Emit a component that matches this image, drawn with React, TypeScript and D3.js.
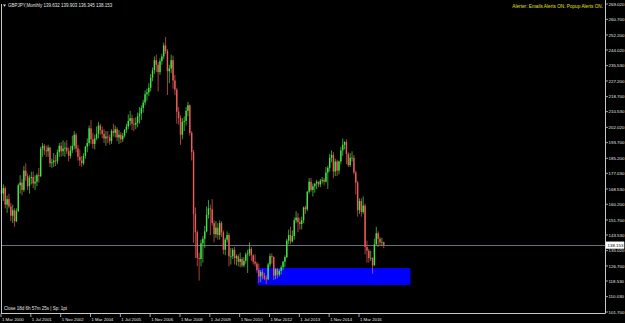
import React from "react";
import * as d3 from "d3";

// Monthly GBPJPY bars [open, high, low, close], first bar = Mar 2000
const bars2000 = [
  [168.0, 174.5, 164.0, 166.0], [166.0, 171.0, 162.0, 169.0], [169.0, 170.0, 158.0, 160.0],
  [160.0, 165.0, 155.5, 163.0], [163.0, 166.0, 158.0, 159.0], [159.0, 161.0, 151.0, 154.0],
  [154.0, 160.0, 150.0, 157.0], [157.0, 158.0, 148.0, 151.0], [151.0, 158.0, 150.5, 156.5],
  [156.5, 171.5, 156.0, 170.5],
];
const bars2001 = [
  [170.5, 176.0, 166.0, 172.0], [172.0, 174.0, 165.0, 168.0], [168.0, 181.0, 167.0, 178.5],
  [178.5, 182.5, 173.0, 175.5], [175.5, 177.0, 168.0, 170.0], [170.0, 176.0, 166.0, 174.5],
  [174.5, 178.0, 171.0, 175.0], [175.0, 178.0, 169.0, 171.5], [171.5, 176.0, 168.0, 172.5],
  [172.5, 177.0, 170.0, 176.0], [176.0, 180.0, 172.0, 175.5], [175.5, 191.5, 175.0, 190.5],
];
const bars2002 = [
  [190.5, 193.5, 186.0, 192.0], [192.0, 193.0, 187.0, 189.5], [189.5, 192.0, 186.0, 189.0],
  [189.0, 192.5, 186.0, 191.0], [191.0, 191.5, 180.5, 182.5], [182.5, 185.0, 180.0, 183.0],
  [183.0, 188.0, 180.5, 184.0], [184.0, 187.0, 181.0, 183.5], [183.5, 190.0, 182.0, 188.5],
  [188.5, 193.5, 186.0, 192.0], [192.0, 194.0, 186.0, 189.0], [189.0, 195.0, 186.5, 190.5],
];
const bars2003 = [
  [190.5, 194.0, 186.0, 191.0], [191.0, 195.0, 187.5, 189.0], [189.0, 191.0, 183.5, 186.5],
  [186.5, 192.0, 185.0, 189.5], [189.5, 197.5, 188.0, 192.0], [192.0, 200.0, 190.0, 198.0],
  [198.0, 199.0, 188.5, 190.5], [190.5, 192.5, 184.0, 186.0], [186.0, 190.0, 181.0, 184.0],
  [184.0, 186.5, 180.5, 182.5], [182.5, 188.0, 181.5, 186.5], [186.5, 192.0, 185.0, 191.5],
];
const bars2004 = [
  [191.5, 196.0, 188.5, 193.5], [193.5, 203.0, 192.0, 201.5], [201.5, 206.0, 193.0, 195.5],
  [195.5, 199.0, 190.5, 193.0], [193.0, 198.0, 190.0, 196.0], [196.0, 202.5, 195.0, 198.5],
  [198.5, 205.0, 196.0, 203.0], [203.0, 204.0, 198.0, 200.5], [200.5, 202.5, 196.0, 198.5],
  [198.5, 201.0, 193.5, 196.0], [196.0, 200.0, 192.0, 197.0], [197.0, 200.0, 193.5, 196.5],
];
const bars2005 = [
  [196.5, 198.0, 192.5, 194.5], [194.5, 201.0, 193.0, 200.0], [200.0, 204.0, 197.0, 199.0],
  [199.0, 203.0, 196.5, 201.0], [201.0, 202.0, 194.5, 196.5], [196.5, 200.5, 193.0, 198.0],
  [198.0, 199.5, 193.5, 195.5], [195.5, 199.0, 194.0, 197.5], [197.5, 201.0, 196.5, 200.5],
  [200.5, 204.0, 199.0, 202.5], [202.5, 209.0, 201.0, 205.5], [205.5, 211.0, 203.0, 207.0],
];
const bars2006 = [
  [207.0, 209.0, 200.5, 204.0], [204.0, 207.0, 200.0, 203.5], [203.5, 207.5, 201.0, 204.5],
  [204.5, 210.0, 202.0, 208.0], [208.0, 213.0, 204.0, 209.5], [209.5, 214.0, 206.0, 212.5],
  [212.5, 217.0, 210.0, 215.5], [215.5, 222.0, 214.0, 220.0], [220.0, 223.0, 216.5, 221.0],
  [221.0, 226.0, 219.0, 223.5], [223.5, 231.0, 221.5, 229.0], [229.0, 234.5, 227.0, 233.0],
];
const bars2007 = [
  [233.0, 240.5, 231.0, 238.5], [238.5, 241.5, 232.0, 236.0], [236.0, 237.5, 221.5, 232.0],
  [232.0, 239.5, 230.5, 238.0], [238.0, 242.0, 236.0, 240.5], [240.5, 248.0, 239.0, 246.5],
  [246.5, 251.1, 242.0, 243.5], [243.5, 244.5, 219.6, 232.5], [232.5, 236.0, 226.0, 234.0],
  [234.0, 241.5, 231.5, 238.5], [238.5, 241.0, 223.0, 227.5], [227.5, 230.5, 219.5, 222.5],
];
const bars2008 = [
  [222.5, 223.5, 204.0, 210.5], [210.5, 213.0, 203.5, 207.0], [207.0, 208.5, 192.5, 198.0],
  [198.0, 207.0, 195.5, 205.0], [205.0, 208.0, 200.0, 205.5], [205.5, 213.0, 203.0, 211.0],
  [211.0, 215.8, 208.0, 214.0], [214.0, 214.5, 197.5, 199.0], [199.0, 200.0, 184.0, 188.5],
  [188.5, 189.7, 139.3, 155.0], [155.0, 158.5, 131.0, 145.0], [145.0, 146.0, 126.5, 131.0],
];
const bars2009 = [
  [131.0, 134.0, 118.8, 130.5], [130.5, 141.0, 126.5, 139.0], [139.0, 143.0, 128.5, 141.5],
  [141.5, 148.5, 136.5, 145.5], [145.5, 159.0, 145.0, 154.5], [154.5, 162.5, 152.5, 158.0],
  [158.0, 160.0, 143.5, 157.5], [157.5, 163.0, 148.5, 150.0], [150.0, 151.5, 139.5, 144.0],
  [144.0, 151.0, 142.0, 147.5], [147.5, 150.0, 141.0, 143.5], [143.5, 151.5, 141.0, 150.0],
];
const bars2010 = [
  [150.0, 151.0, 142.5, 145.0], [145.0, 146.0, 133.0, 135.5], [135.5, 142.0, 132.5, 141.0],
  [141.0, 145.5, 139.5, 143.5], [143.5, 144.5, 126.5, 132.0], [132.0, 136.5, 127.5, 132.0],
  [132.0, 136.5, 130.5, 135.5], [135.5, 137.0, 127.5, 131.0], [131.0, 133.0, 127.0, 132.0],
  [132.0, 133.0, 126.5, 129.0], [129.0, 134.0, 126.0, 130.5], [130.5, 131.5, 126.0, 127.0],
];
const bars2011 = [
  [127.0, 131.5, 126.0, 129.5], [129.5, 134.0, 128.0, 133.0], [133.0, 135.5, 122.9, 133.5],
  [133.5, 139.5, 132.0, 136.0], [136.0, 137.0, 129.5, 132.5], [132.5, 133.0, 127.5, 129.0],
  [129.0, 133.0, 126.5, 128.0], [128.0, 129.0, 123.0, 124.5], [124.5, 128.0, 117.5, 121.0],
  [121.0, 124.5, 118.0, 123.5], [123.5, 125.0, 119.5, 121.5], [121.5, 123.0, 119.0, 120.0],
];
const bars2012 = [
  [120.0, 121.5, 117.0, 119.5], [119.5, 128.5, 119.0, 127.5], [127.5, 133.5, 126.0, 132.0],
  [132.0, 133.5, 128.0, 131.5], [131.5, 132.0, 119.0, 121.5], [121.5, 125.5, 119.5, 125.0],
  [125.0, 125.5, 120.0, 122.0], [122.0, 125.0, 121.0, 124.0], [124.0, 127.0, 122.0, 126.0],
  [126.0, 129.5, 124.5, 129.0], [129.0, 132.5, 126.0, 131.5], [131.5, 141.5, 131.0, 140.5],
];
const bars2013 = [
  [140.5, 146.5, 138.5, 143.5], [143.5, 148.0, 138.5, 140.0], [140.0, 146.0, 139.5, 143.0],
  [143.0, 153.0, 141.0, 151.5], [151.5, 156.5, 150.0, 153.0], [153.0, 155.5, 145.0, 150.5],
  [150.5, 153.0, 146.5, 149.5], [149.5, 153.5, 146.5, 151.5], [151.5, 159.0, 150.0, 158.5],
  [158.5, 159.5, 155.0, 157.5], [157.5, 167.5, 156.5, 167.0], [167.0, 174.5, 166.0, 172.5],
];
const bars2014 = [
  [172.5, 174.5, 167.0, 168.0], [168.0, 171.5, 164.5, 170.0], [170.0, 171.5, 166.5, 171.5],
  [171.5, 173.5, 168.5, 172.5], [172.5, 172.5, 169.5, 171.0], [171.0, 174.0, 169.5, 173.0],
  [173.0, 175.0, 171.5, 173.5], [173.5, 174.5, 170.5, 172.5], [172.5, 180.5, 172.0, 177.5],
  [177.5, 181.0, 168.5, 180.0], [180.0, 187.5, 178.0, 185.5], [185.5, 189.5, 183.0, 187.0],
];
const bars2015 = [
  [187.0, 188.5, 174.5, 178.0], [178.0, 185.0, 175.5, 183.5], [183.5, 184.5, 175.5, 178.5],
  [178.5, 184.0, 176.5, 183.5], [183.5, 191.5, 182.0, 189.5], [189.5, 195.9, 186.5, 192.5],
  [192.5, 194.5, 190.0, 194.0], [194.0, 195.5, 182.0, 187.5], [187.5, 188.5, 180.5, 181.5],
  [181.5, 188.0, 180.5, 185.5], [185.5, 189.0, 183.5, 185.5], [185.5, 187.0, 176.5, 177.5],
];
const bars2016 = [
  [177.5, 178.5, 165.5, 172.0], [172.0, 173.0, 153.5, 157.0], [157.0, 163.5, 155.0, 162.0],
  [162.0, 163.5, 153.5, 156.0], [156.0, 164.5, 155.0, 159.5], [159.5, 160.5, 133.0, 137.0],
  [137.0, 140.5, 128.5, 135.0], [135.0, 136.0, 128.5, 131.0], [131.0, 135.0, 129.5, 131.0],
  [131.0, 131.5, 122.5, 127.0], [127.0, 141.5, 127.0, 138.5], [138.5, 148.0, 138.0, 144.5],
];
const bars2017 = [
  [144.5, 145.5, 137.0, 141.5], [141.5, 142.5, 138.0, 139.5], [139.5, 142.0, 137.5, 139.632],
  [139.632, 139.903, 136.345, 138.153],
];

const xTickIndex = [0, 16, 32, 48, 64, 80, 96, 112, 128, 144, 160, 176, 192];
const xTickLabels = [
  "1 Mar 2000", "1 Jul 2001", "1 Nov 2002", "1 Mar 2004", "1 Jul 2005", "1 Nov 2006",
  "1 Mar 2008", "1 Jul 2009", "1 Nov 2010", "1 Mar 2012", "1 Jul 2013", "1 Nov 2014", "1 Mar 2016",
];
const yTickValues = [
  269.02, 260.7, 252.2, 244.02, 235.53, 227.2, 218.7, 210.53, 202.02, 193.7, 185.2,
  177.03, 168.53, 160.2, 151.7, 143.53, 135.02, 126.7, 118.53, 110.03, 101.7,
];
const bidPrice = 138.153;
const zoneStartIndex = 137.3;
const zoneEndIndex = 219.3;
const zoneTop = 125.6;
const zoneBottom = 116.4;
const headerText = "GBPJPY,Monthly  139.632 139.903 136.345 138.153";
const alertText = "Alerter: Emails Alerts ON. Popup Alerts ON.";
const closeText = "Close 18d 6h 57m 25s | Sp: 1pt";

const W = 625;
const H = 323;
const FONT = "'Liberation Sans', Arial, sans-serif";
const BULL = "#44e444";
const BEAR = "#f05a5a";

export default function App() {
  const bars = [
    ...bars2000, ...bars2001, ...bars2002, ...bars2003, ...bars2004, ...bars2005,
    ...bars2006, ...bars2007, ...bars2008, ...bars2009, ...bars2010, ...bars2011,
    ...bars2012, ...bars2013, ...bars2014, ...bars2015, ...bars2016, ...bars2017,
  ];
  const x = d3.scaleLinear().domain([0, 192]).range([1.5, 359.5]);
  const y = d3.scaleLinear().domain([101.7, 269.02]).range([312, 4]);
  const axisX = 605.5;
  const axisY = 313.5;
  const bodyW = 1.4;

  return (
    <svg
      width={W}
      height={H}
      style={{ position: "absolute", left: 0, top: 0, display: "block" }}
      fontFamily={FONT}
    >
      <rect x={0} y={0} width={W} height={H} fill="#000" />
      {/* support zone */}
      <rect
        x={x(zoneStartIndex)}
        y={y(zoneTop)}
        width={x(zoneEndIndex) - x(zoneStartIndex)}
        height={y(zoneBottom) - y(zoneTop)}
        fill="#0000ff"
      />
      {/* bid line */}
      <line x1={1} x2={axisX} y1={Math.round(y(bidPrice)) + 0.5} y2={Math.round(y(bidPrice)) + 0.5} stroke="#66707e" strokeWidth={1} />
      {/* candles */}
      {bars.map((b, i) => {
        const [o, h, l, c] = b;
        const cx = x(i);
        const col = c >= o ? BULL : BEAR;
        const top = y(Math.max(o, c));
        const bot = y(Math.min(o, c));
        return (
          <g key={i}>
            <line x1={cx} x2={cx} y1={y(h)} y2={y(l)} stroke={col} strokeWidth={0.7} />
            <rect x={cx - bodyW / 2} y={top} width={bodyW} height={Math.max(0.6, bot - top)} fill={col} />
          </g>
        );
      })}
      {/* frame */}
      <line x1={1.5} x2={1.5} y1={4} y2={axisY} stroke="#c8c8c8" strokeWidth={1} />
      <line x1={axisX} x2={axisX} y1={0} y2={axisY} stroke="#c8c8c8" strokeWidth={1} />
      <line x1={1} x2={axisX} y1={axisY} y2={axisY} stroke="#c8c8c8" strokeWidth={1} />
      {/* y axis */}
      {yTickValues.map((v, i) => (
        <g key={"y" + i}>
          <line x1={axisX} x2={axisX + 2.5} y1={y(v)} y2={y(v)} stroke="#c8c8c8" strokeWidth={0.8} />
          <text x={608.5} y={y(v)} dy="0.35em" fontSize={4.4} fill="#e6e6e6">
            {v.toFixed(3)}
          </text>
        </g>
      ))}
      {/* bid price label */}
      <rect x={606} y={y(bidPrice) - 3} width={18} height={6.5} fill="#ffffff" stroke="#ffffff" strokeWidth={0.6} />
      <text x={607.5} y={y(bidPrice) + 0.2} dy="0.35em" fontSize={4.4} fill="#000">
        {bidPrice.toFixed(3)}
      </text>
      {/* x axis */}
      {xTickIndex.map((idx, i) => (
        <g key={"x" + i}>
          <line x1={x(idx) - 0.5} x2={x(idx) - 0.5} y1={axisY} y2={axisY + 3.5} stroke="#c8c8c8" strokeWidth={0.8} />
          <text x={x(idx) + 0.5} y={320.5} fontSize={4.3} fill="#e6e6e6">
            {xTickLabels[i]}
          </text>
        </g>
      ))}
      {/* header */}
      <path d="M3,4.5 L6,4.5 L4.5,6.8 Z" fill="#e6e6e6" />
      <text x={8} y={7} fontSize={4.5} fill="#e6e6e6">
        {headerText}
      </text>
      <text x={603} y={7.5} fontSize={4.7} fill="#e0e000" textAnchor="end">
        {alertText}
      </text>
      <text x={4} y={309.5} fontSize={4.5} fill="#e6e6e6">
        {closeText}
      </text>
    </svg>
  );
}
